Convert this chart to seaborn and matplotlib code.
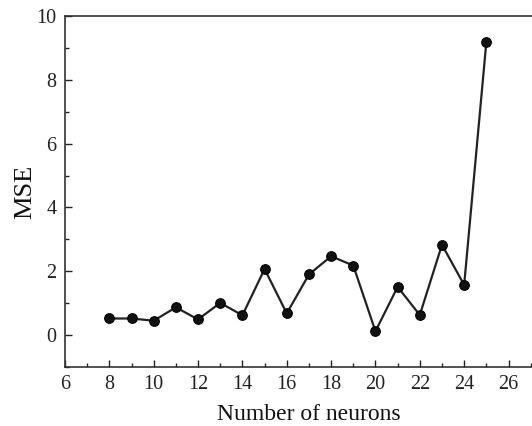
import pandas as pd
import matplotlib
matplotlib.use("Agg")
import matplotlib.pyplot as plt
import seaborn as sns

sns.set_style("ticks")
plt.rcParams["font.family"] = ["Liberation Serif", "DejaVu Serif"]

neurons = [8, 9, 10, 11, 12, 13, 14, 15, 16, 17, 18, 19, 20, 21, 22, 23, 24, 25]
mse = [0.52, 0.52, 0.45, 0.87, 0.49, 1.01, 0.62, 2.07, 0.68, 1.90,
       2.47, 2.18, 0.12, 1.51, 0.63, 2.83, 1.57, 9.18]

df = pd.DataFrame({"neurons": neurons, "mse": mse})

fig = plt.figure(figsize=(5.32, 4.26), dpi=100)
ax = fig.add_axes([0.1222, 0.1385, 0.917, 0.824])

sns.lineplot(data=df, x="neurons", y="mse", ax=ax, color="#222222",
             linewidth=1.6, marker="o", markersize=7,
             markerfacecolor="#111111", markeredgecolor="#000000")

ax.set_xlim(6, 28)
ax.set_ylim(-1, 10)
ax.set_xticks(range(6, 28, 2))
ax.set_xticks(range(7, 28, 2), minor=True)
ax.set_yticks(range(0, 11, 2))
ax.set_yticks(range(-1, 10, 2), minor=True)
ax.tick_params(which="major", direction="in", length=5, width=1, labelsize=14.5,
               colors="#222222", pad=6)
ax.tick_params(which="minor", direction="in", length=3, width=1)
for side in ["left", "bottom", "top"]:
    ax.spines[side].set_linewidth(1.2)
    ax.spines[side].set_color("#333333")
ax.spines["right"].set_visible(False)

ax.set_xlabel("Number of neurons", fontsize=17, color="#111111", labelpad=7)
ax.set_ylabel("MSE", fontsize=19, color="#111111", labelpad=0)

fig.savefig("out.png", dpi=100)
